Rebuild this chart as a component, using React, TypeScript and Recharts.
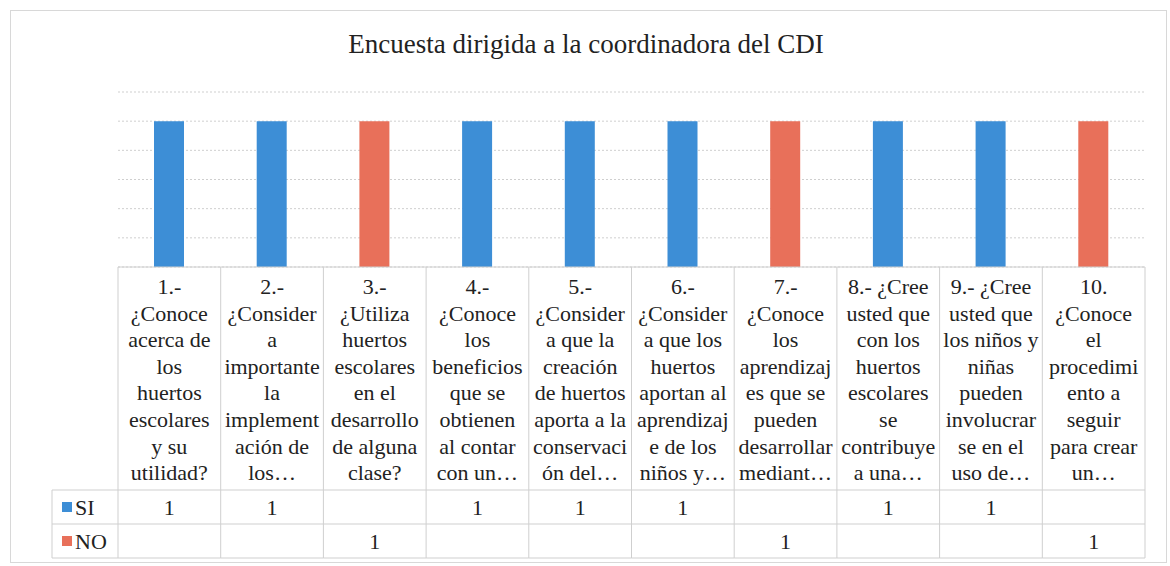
import { Bar, BarChart, CartesianGrid, XAxis, YAxis } from "recharts";

const categories = [
  "1.-\n¿Conoce\nacerca de\nlos\nhuertos\nescolares\ny su\nutilidad?",
  "2.-\n¿Consider\na\nimportante\nla\nimplement\nación de\nlos…",
  "3.-\n¿Utiliza\nhuertos\nescolares\nen el\ndesarrollo\nde alguna\nclase?",
  "4.-\n¿Conoce\nlos\nbeneficios\nque se\nobtienen\nal contar\ncon un…",
  "5.-\n¿Consider\na que la\ncreación\nde huertos\naporta a la\nconservaci\nón del…",
  "6.-\n¿Consider\na que los\nhuertos\naportan al\naprendizaj\ne de los\nniños y…",
  "7.-\n¿Conoce\nlos\naprendizaj\nes que se\npueden\ndesarrollar\nmediant…",
  "8.- ¿Cree\nusted que\ncon los\nhuertos\nescolares\nse\ncontribuye\na una…",
  "9.- ¿Cree\nusted que\nlos niños y\nniñas\npueden\ninvolucrar\nse en el\nuso de…",
  "10.\n¿Conoce\nel\nprocedimi\nento a\nseguir\npara crear\nun…",
];
const si = [1, 1, null, 1, 1, 1, null, 1, 1, null];
const no = [null, null, 1, null, null, null, 1, null, null, 1];
const yTicks = [0, 0.2, 0.4, 0.6, 0.8, 1, 1.2];

const BLUE = "#3d8ed6";
const RED = "#e8705a";
const GRID = "#cfcfcf";
const FONT = "Liberation Serif";

const data = categories.map((name, i) => ({ name, SI: si[i], NO: no[i] }));

const PLOT_L = 118;
const PLOT_R = 1145;
const TOP = 267;
const ROW1 = 490;
const ROW2 = 524;
const BOTTOM = 558;
const CELL_W = (PLOT_R - PLOT_L) / categories.length;

function TableTick(props: any) {
  const { x, payload } = props;
  const i = payload.index;
  const lines = String(payload.value).split("\n");
  const l = x - CELL_W / 2;
  const r = x + CELL_W / 2;
  return (
    <g>
      <line x1={l} x2={r} y1={TOP} y2={TOP} stroke={GRID} />
      <line x1={l} x2={r} y1={ROW1} y2={ROW1} stroke={GRID} />
      <line x1={l} x2={r} y1={ROW2} y2={ROW2} stroke={GRID} />
      <line x1={l} x2={r} y1={BOTTOM} y2={BOTTOM} stroke={GRID} />
      <line x1={l} x2={l} y1={TOP} y2={BOTTOM} stroke={GRID} />
      {i === categories.length - 1 && (
        <line x1={r} x2={r} y1={TOP} y2={BOTTOM} stroke={GRID} />
      )}
      <text x={x} y={294} textAnchor="middle" fontFamily={FONT} fontSize={22} fill="#222">
        {lines.map((ln, k) => (
          <tspan key={k} x={x} dy={k === 0 ? 0 : 26.6}>
            {ln}
          </tspan>
        ))}
      </text>
      {si[i] != null && (
        <text x={x} y={515} textAnchor="middle" fontFamily={FONT} fontSize={22} fill="#222">
          {si[i]}
        </text>
      )}
      {no[i] != null && (
        <text x={x} y={549} textAnchor="middle" fontFamily={FONT} fontSize={22} fill="#222">
          {no[i]}
        </text>
      )}
    </g>
  );
}

export default function App() {
  return (
    <div
      style={{
        position: "absolute",
        left: 0,
        top: 0,
        width: 1170,
        height: 566,
        background: "#fff",
        fontFamily: FONT,
      }}
    >
      <div
        style={{
          position: "absolute",
          left: 10,
          top: 10,
          width: 1157,
          height: 553,
          border: "1px solid #d8d8d8",
          boxSizing: "border-box",
        }}
      />
      <div
        style={{
          position: "absolute",
          left: 0,
          top: 29,
          width: 1172,
          textAlign: "center",
          fontSize: 27,
          color: "#222",
          fontFamily: FONT,
        }}
      >
        Encuesta dirigida a la coordinadora del CDI
      </div>
      <div style={{ position: "absolute", left: 0, top: 0 }}>
        <BarChart
          width={1170}
          height={566}
          data={data}
          margin={{ top: 92, right: 1170 - PLOT_R, bottom: 0, left: PLOT_L }}
          barSize={30}
        >
          <CartesianGrid vertical={false} stroke={GRID} strokeDasharray="2 2" />
          <YAxis hide domain={[0, 1.2]} ticks={yTicks} />
          <XAxis
            dataKey="name"
            height={566 - TOP}
            axisLine={false}
            tickLine={false}
            interval={0}
            tick={<TableTick />}
          />
          <Bar dataKey="SI" stackId="a" fill={BLUE} isAnimationActive={false} />
          <Bar dataKey="NO" stackId="a" fill={RED} isAnimationActive={false} />
        </BarChart>
      </div>
      <svg
        width={1170}
        height={566}
        style={{ position: "absolute", left: 0, top: 0, pointerEvents: "none" }}
      >
        <line x1={52} x2={PLOT_L} y1={ROW1} y2={ROW1} stroke={GRID} />
        <line x1={52} x2={PLOT_L} y1={ROW2} y2={ROW2} stroke={GRID} />
        <line x1={52} x2={PLOT_L} y1={BOTTOM} y2={BOTTOM} stroke={GRID} />
        <line x1={52} x2={52} y1={ROW1} y2={BOTTOM} stroke={GRID} />
        <rect x={62} y={502} width={10} height={10} fill={BLUE} />
        <text x={75} y={515} fontFamily={FONT} fontSize={22} fill="#222">
          SI
        </text>
        <rect x={62} y={536} width={10} height={10} fill={RED} />
        <text x={75} y={549} fontFamily={FONT} fontSize={22} fill="#222">
          NO
        </text>
      </svg>
    </div>
  );
}
